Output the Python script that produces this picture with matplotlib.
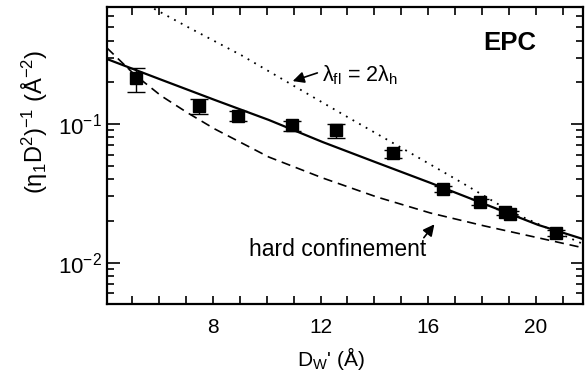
import matplotlib
matplotlib.use("Agg")
import matplotlib.pyplot as plt
from matplotlib.ticker import LogLocator, FixedLocator, NullFormatter

plt.rcParams["font.family"] = ["Liberation Sans", "DejaVu Sans"]
plt.rcParams["mathtext.default"] = "regular"

# measured points
dw = [5.16, 7.50, 8.94, 10.95, 12.58, 14.69, 16.54, 17.91, 18.85, 19.03, 20.73]
inv = [0.214, 0.135, 0.114, 0.0984, 0.0906, 0.0618, 0.0340, 0.0274, 0.0232, 0.0226, 0.0164]
err_lo = [0.044, 0.017, 0.009, 0.0094, 0.011, 0.0046, 0.0015, 0.0012, 0.0010, 0.0010, 0.0008]
err_hi = [0.039, 0.016, 0.010, 0.0066, 0.0089, 0.0032, 0.0015, 0.0012, 0.0010, 0.0010, 0.0008]

# model curves
fit_x = [4.08, 6.08, 8.08, 10.08, 12.08, 14.08, 16.08, 18.08, 20.08, 21.74]
fit_y = [0.294, 0.209, 0.149, 0.107, 0.0741, 0.0527, 0.0376, 0.0265, 0.0187, 0.0148]

fl_x = [5.58, 7.08, 9.08, 11.08, 13.08, 15.08, 17.08, 19.08, 21.74]
fl_y = [0.72, 0.50, 0.312, 0.185, 0.110, 0.066, 0.0394, 0.0232, 0.01364]

hard_x = [4.08, 5.08, 6.08, 7.08, 8.08, 10.08, 12.08, 14.08, 16.08, 18.08, 20.08, 21.74]
hard_y = [0.353, 0.229, 0.160, 0.120, 0.092, 0.0578, 0.0408, 0.0298, 0.0228, 0.0184, 0.0151, 0.0128]

fig = plt.figure(figsize=(5.85, 3.77), dpi=100)
ax = fig.add_axes([0.183, 0.1936, 0.8136, 0.7878])

ax.plot(fit_x, fit_y, color="black", lw=1.6)
ax.plot(fl_x, fl_y, color="black", lw=1.3, linestyle=(0, (1, 3.2)))
ax.plot(hard_x, hard_y, color="black", lw=1.2, linestyle=(0, (5.5, 3.5)))
ax.errorbar(dw, inv, yerr=[err_lo, err_hi], fmt="s", color="black",
            markersize=8, elinewidth=1.0, capsize=6.5, capthick=1.0)

ax.set_yscale("log")
ax.set_xlim(4.08, 21.74)
ax.set_ylim(0.00503, 0.698)

ax.xaxis.set_major_locator(FixedLocator([8, 12, 16, 20]))
ax.xaxis.set_minor_locator(FixedLocator(list(range(5, 22))))
ax.yaxis.set_major_locator(LogLocator(base=10))
ax.yaxis.set_minor_locator(LogLocator(base=10, subs=range(2, 10)))
ax.yaxis.set_minor_formatter(NullFormatter())
ax.set_yticks([0.01, 0.1])
ax.set_yticklabels(["10$^{-2}$", "10$^{-1}$"])

ax.tick_params(which="both", direction="in", top=True, right=True, width=1.2)
ax.tick_params(axis="x", which="both", length=6, labelsize=15, pad=10)
ax.tick_params(axis="y", which="major", length=9, labelsize=16, pad=4)
ax.tick_params(axis="y", which="minor", length=5)
for s in ax.spines.values():
    s.set_linewidth(1.6)

fig.text(0.06, 1 - 122 / 377, "(η$_1$D$^2$)$^{-1}$ (Å$^{-2}$)", rotation=90,
         ha="center", va="center", fontsize=17)
fig.text(331 / 585, 1 - 358 / 377, "D$_W$' (Å)", ha="center", va="center", fontsize=15)

ax.text(0.79, 0.879, "EPC", transform=ax.transAxes, fontsize=18.5,
        fontweight="bold", ha="left", va="center")

ax.text(12.06, 0.225, "λ$_{fl}$ = 2λ$_h$", fontsize=15.5, ha="left", va="center")
ax.annotate("", xy=(10.87, 0.201), xytext=(11.98, 0.237),
            arrowprops=dict(arrowstyle="-|>", color="black", lw=1.2, mutation_scale=17))

ax.text(9.35, 0.01116, "hard confinement", fontsize=16.5, ha="left", va="baseline")
ax.annotate("", xy=(16.29, 0.0196), xytext=(15.77, 0.0146),
            arrowprops=dict(arrowstyle="-|>", color="black", lw=1.2, mutation_scale=17))

fig.savefig("out.png", dpi=100)
